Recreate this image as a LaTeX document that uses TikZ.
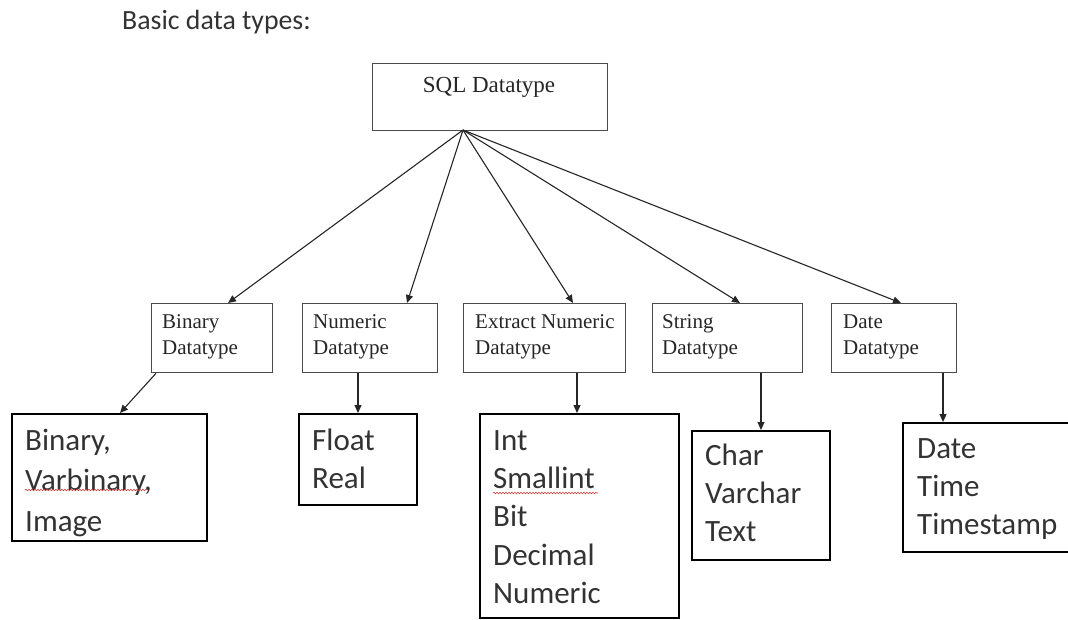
\documentclass[tikz,border=0pt]{standalone}
\usepackage{fontspec}
\setmainfont{Carlito}
\newfontfamily\cambriaf{Liberation Serif}
\usetikzlibrary{arrows.meta,decorations.pathmorphing}
\definecolor{txt}{HTML}{333333}
\definecolor{sertxt}{HTML}{262626}
\definecolor{edge}{HTML}{4A4A4A}
\definecolor{spell}{HTML}{D04040}
\tikzset{
  topbox/.style={draw=edge, line width=1.3pt, anchor=north west, inner sep=0pt},
  lowbox/.style={draw=black, line width=2.4pt, anchor=north west, inner sep=0pt},
  toplbl/.style={font=\cambriaf\fontsize{21}{26}\selectfont, text=sertxt, anchor=base west, inner sep=0pt},
  lowlbl/.style={font=\fontsize{31}{38.4}\selectfont, text=txt, anchor=base west, inner sep=0pt},
  conn/.style={draw=black!85, line width=1.1pt, -{Triangle[length=8pt,width=7pt]}},
  squiggle/.style={draw=spell, line width=0.6pt, decorate, decoration={snake, amplitude=0.8pt, segment length=3pt}}
}
\begin{document}
\begin{tikzpicture}[x=1pt,y=-1pt]
\useasboundingbox (0,0) rectangle (1068,619);
\fill[white] (0,0) rectangle (1068,619);

% heading
\node[font=\fontsize{27.8}{32}\selectfont, text=txt, anchor=base west, inner sep=0pt] (title) at (122,29) {Basic data types:};

% root
\node[topbox, minimum width=235pt, minimum height=67pt] (sql) at (372,63) {};
\node[font=\cambriaf\fontsize{23}{26}\selectfont, text=sertxt, anchor=base, inner sep=0pt] (sqlT) at (489,92) {SQL Datatype};
\coordinate (hub) at (463,130);

% second row
\node[topbox, minimum width=121pt, minimum height=69pt] (bin) at (151,303) {};
\node[topbox, minimum width=135pt, minimum height=69pt] (num) at (302,303) {};
\node[topbox, minimum width=162pt, minimum height=69pt] (ext) at (463,303) {};
\node[topbox, minimum width=150pt, minimum height=69pt] (str) at (652,303) {};
\node[topbox, minimum width=125pt, minimum height=69pt] (dat) at (831,303) {};

\node[toplbl] (binT) at (162,328) {\begin{tabular}[t]{@{}l@{}}Binary\\Datatype\end{tabular}};
\node[toplbl] (numT) at (313,328) {\begin{tabular}[t]{@{}l@{}}Numeric\\Datatype\end{tabular}};
\node[toplbl] (extT) at (475,328) {\begin{tabular}[t]{@{}l@{}}Extract Numeric\\Datatype\end{tabular}};
\node[toplbl] (strT) at (662,328) {\begin{tabular}[t]{@{}l@{}}String\\Datatype\end{tabular}};
\node[toplbl] (datT) at (843,328) {\begin{tabular}[t]{@{}l@{}}Date\\Datatype\end{tabular}};

\draw[conn] (hub) -- (228,0 |- bin.north);
\draw[conn] (hub) -- (407,0 |- num.north);
\draw[conn] (hub) -- (573,0 |- ext.north);
\draw[conn] (hub) -- (740,0 |- str.north);
\draw[conn] (hub) -- (901,0 |- dat.north);

% third row
\node[lowbox, minimum width=195pt, minimum height=127pt] (binL) at (11,413) {};
\node[lowbox, minimum width=118pt, minimum height=91pt] (numL) at (298,413) {};
\node[lowbox, minimum width=199pt, minimum height=204pt] (extL) at (479,413) {};
\node[lowbox, minimum width=138pt, minimum height=129pt] (strL) at (691,430) {};
\node[lowbox, minimum width=170pt, minimum height=129pt] (datL) at (902,422) {};

\node[lowlbl, font=\fontsize{31}{40.5}\selectfont] (binLT) at (25,450) {\begin{tabular}[t]{@{}l@{}}Binary,\\Varbinary,\\Image\end{tabular}};
\node[lowlbl] (numLT) at (312,450) {\begin{tabular}[t]{@{}l@{}}Float\\Real\end{tabular}};
\node[lowlbl] (extLT) at (493,450) {\begin{tabular}[t]{@{}l@{}}Int\\Smallint\\Bit\\Decimal\\Numeric\end{tabular}};
\node[lowlbl] (strLT) at (705,465) {\begin{tabular}[t]{@{}l@{}}Char\\Varchar\\Text\end{tabular}};
\node[lowlbl] (datLT) at (917,458) {\begin{tabular}[t]{@{}l@{}}Date\\Time\\Timestamp\end{tabular}};

\draw[squiggle] (25,490) -- (147,490);
\draw[squiggle] (493,493) -- (598,493);

\draw[conn] (156,0 |- bin.south) -- (120,0 |- binL.north);
\draw[conn] (358,0 |- num.south) -- (358,0 |- numL.north);
\draw[conn] (577,0 |- ext.south) -- (577,0 |- extL.north);
\draw[conn] (761,0 |- str.south) -- (761,0 |- strL.north);
\draw[conn] (943,0 |- dat.south) -- (943,0 |- datL.north);
\end{tikzpicture}
\end{document}
